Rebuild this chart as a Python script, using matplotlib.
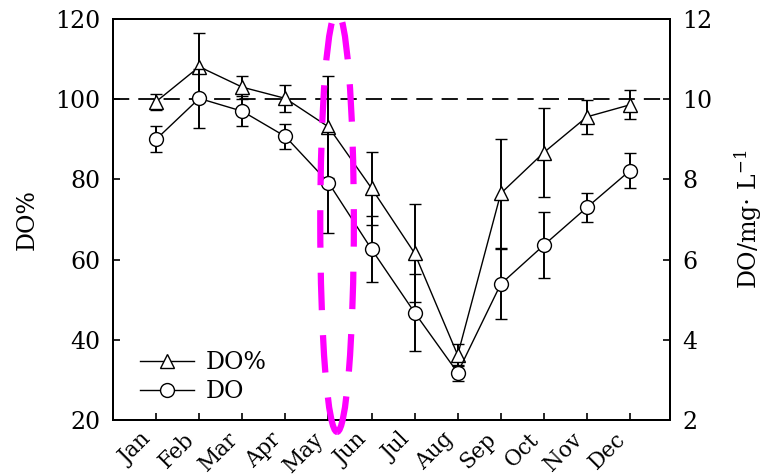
import matplotlib
matplotlib.use("Agg")
import matplotlib.pyplot as plt
from matplotlib.patches import Ellipse
from matplotlib.lines import Line2D
from matplotlib.transforms import ScaledTranslation

months = ["Jan", "Feb", "Mar", "Apr", "May", "Jun",
          "Jul", "Aug", "Sep", "Oct", "Nov", "Dec"]

# DO saturation (%)
do_pct = [99.4, 108.1, 103.0, 100.2, 93.1, 77.8, 61.6, 36.2, 76.5, 86.7, 95.6, 98.6]
do_pct_err = [2.0, 8.3, 2.9, 3.3, 12.7, 9.1, 12.2, 2.8, 13.5, 11.1, 4.2, 3.6]

# DO concentration (mg/L)
do_mg = [9.0, 10.02, 9.7, 9.07, 7.92, 6.26, 4.68, 3.18, 5.39, 6.36, 7.30, 8.22]
do_mg_err = [0.32, 0.73, 0.37, 0.31, 1.26, 0.83, 0.96, 0.20, 0.88, 0.82, 0.36, 0.43]

plt.rcParams["font.family"] = "DejaVu Serif"
plt.rcParams["mathtext.fontset"] = "dejavuserif"

fs = 17
x = list(range(1, len(months) + 1))

fig = plt.figure(figsize=(7.64, 4.76), dpi=100)
ax = fig.add_axes([0.148, 0.1176, 0.729, 0.8425])
ax2 = ax.twinx()

# saturation reference line
ax.axhline(100, color="black", lw=1.3, ls=(0, (9, 5)), zorder=1)

mk = dict(color="black", lw=1.0, mfc="white", mec="black", mew=1.0,
          ms=10, ecolor="black", elinewidth=1.4, capsize=4.5, capthick=1.4)
ax.errorbar(x, do_pct, yerr=do_pct_err, marker="^", zorder=3, **mk)
ax2.errorbar(x, do_mg, yerr=do_mg_err, marker="o", zorder=3, **mk)

ax.set_xlim(0, 12.93)
ax.set_ylim(20, 120)
ax2.set_ylim(2, 12)
ax.set_yticks([20, 40, 60, 80, 100, 120])
ax2.set_yticks([2, 4, 6, 8, 10, 12])
ax.set_xticks(x)
ax.set_xticklabels(months, rotation=45, ha="right", fontsize=15.5)
shift = ScaledTranslation(0.07, 0.06, fig.dpi_scale_trans)
for lbl in ax.get_xticklabels():
    lbl.set_transform(lbl.get_transform() + shift)

for a in (ax, ax2):
    for s in a.spines.values():
        s.set_linewidth(1.4)
ax.tick_params(axis="both", direction="in", length=5, width=1.2,
               labelsize=fs, pad=9, top=False, right=False)
ax2.tick_params(axis="y", direction="in", length=5, width=1.2,
                labelsize=fs, pad=9)
ax.tick_params(axis="x", pad=6, labelsize=15.5)

ax.set_ylabel("DO%", fontsize=fs, labelpad=12)
ax2.set_ylabel(r"DO/mg$\cdot$ L$^{-1}$", fontsize=fs, labelpad=14)

handles = [
    Line2D([], [], color="black", lw=1.0, marker="^", ms=10,
           mfc="white", mec="black", mew=1.0),
    Line2D([], [], color="black", lw=1.0, marker="o", ms=10,
           mfc="white", mec="black", mew=1.0),
]
ax2.legend(handles, ["DO%", "DO"], loc="lower left", frameon=False,
           fontsize=fs, handlelength=2.3, handletextpad=0.5,
           labelspacing=0.25, bbox_to_anchor=(0.01, -0.01))

# highlight around May
hl = Ellipse((5.2, 6.94), 0.78, 10.47, fill=False, edgecolor="#ff00ff",
             lw=4.5, ls=(0, (6, 4)), zorder=10, clip_on=False)
ax2.add_patch(hl)

fig.savefig("out.png", dpi=100)
